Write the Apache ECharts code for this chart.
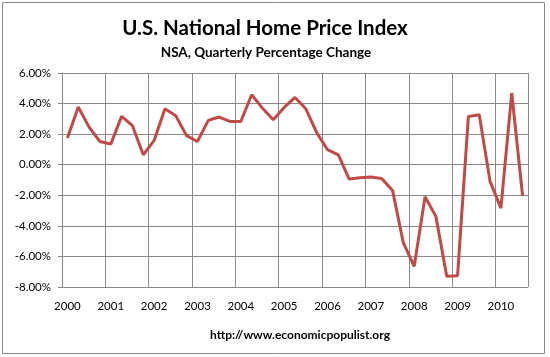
<!DOCTYPE html>
<html><head><meta charset="utf-8">
<script src="https://cdn.jsdelivr.net/npm/echarts@6/dist/echarts.min.js"></script>
<style>html,body{margin:0;padding:0;background:#fff}#c{width:550px;height:357px}</style>
</head><body><div id="c"></div>
<script>
const years = ['2000','2001','2002','2003','2004','2005','2006','2007','2008','2009','2010'];
const quarters = ['Q1','Q2','Q3','Q4'];
const categories = [];
years.forEach(y => quarters.forEach(q => categories.push(y + ' ' + q)));
categories.length = 43; // through 2010 Q3
const pctChange = [
  1.74, 3.77, 2.46, 1.52,
  1.35, 3.16, 2.55, 0.65,
  1.59, 3.66, 3.20, 1.90,
  1.52, 2.90, 3.12, 2.83,
  2.83, 4.58, 3.70, 2.94,
  3.75, 4.40, 3.66, 2.10,
  0.98, 0.65, -0.94, -0.85,
  -0.80, -0.90, -1.68, -5.12,
  -6.65, -2.10, -3.38, -7.30,
  -7.26, 3.16, 3.27, -1.09,
  -2.84, 4.69, -2.03
];
const yTicks = [-8, -6, -4, -2, 0, 2, 4, 6];
const titleText = 'U.S. National Home Price Index';
const subtitleText = 'NSA, Quarterly Percentage Change';
const footerText = 'http://www.economicpopulist.org';

const chart = echarts.init(document.getElementById('c'), null, {renderer: 'canvas'});
const font = 'Lato, "Open Sans", sans-serif';
chart.setOption({
  animation: false,
  backgroundColor: '#fff',
  title: [
    {text: titleText, left: 260, top: 13, textAlign: 'center',
     textStyle: {fontFamily: font, fontWeight: 'bold', fontSize: 20.5, color: '#000'}},
    {text: subtitleText, left: 261, top: 41, textAlign: 'center',
     textStyle: {fontFamily: font, fontWeight: 'bold', fontSize: 13.5, color: '#000'}},
    {text: footerText, left: 295, top: 324, textAlign: 'center',
     textStyle: {fontFamily: font, fontWeight: 'bold', fontSize: 12, color: '#000'}}
  ],
  graphic: [{type: 'rect', shape: {x: 2.5, y: 2.5, width: 542, height: 351},
    style: {fill: 'none', stroke: '#888', lineWidth: 1}, silent: true}],
  grid: {left: 62, right: 22, top: 73, bottom: 70, containLabel: false},
  xAxis: {
    type: 'category', data: categories, boundaryGap: true,
    axisLine: {show: true, lineStyle: {color: '#868686', width: 1}},
    axisTick: {show: true, interval: 3, length: 4, lineStyle: {color: '#868686'}},
    splitLine: {show: true, interval: 3, lineStyle: {color: '#8a8a8a', width: 1}},
    axisLabel: {interval: 3, margin: 13, fontFamily: font, fontSize: 11.5, color: '#000',
      formatter: v => v.split(' ')[0]}
  },
  yAxis: {
    type: 'value', min: yTicks[0], max: yTicks[yTicks.length - 1], interval: 2,
    axisLine: {show: true, lineStyle: {color: '#868686', width: 1}},
    axisTick: {show: true, length: 4, lineStyle: {color: '#868686'}},
    splitLine: {show: true, lineStyle: {color: '#8a8a8a', width: 1}},
    axisLabel: {margin: 11, fontFamily: font, fontSize: 11.5, color: '#000',
      formatter: v => v.toFixed(2) + '%'}
  },
  series: [{
    type: 'line', data: pctChange, symbol: 'none',
    lineStyle: {color: '#BE4B48', width: 3},
    itemStyle: {color: '#BE4B48'}
  }]
});
</script></body></html>
